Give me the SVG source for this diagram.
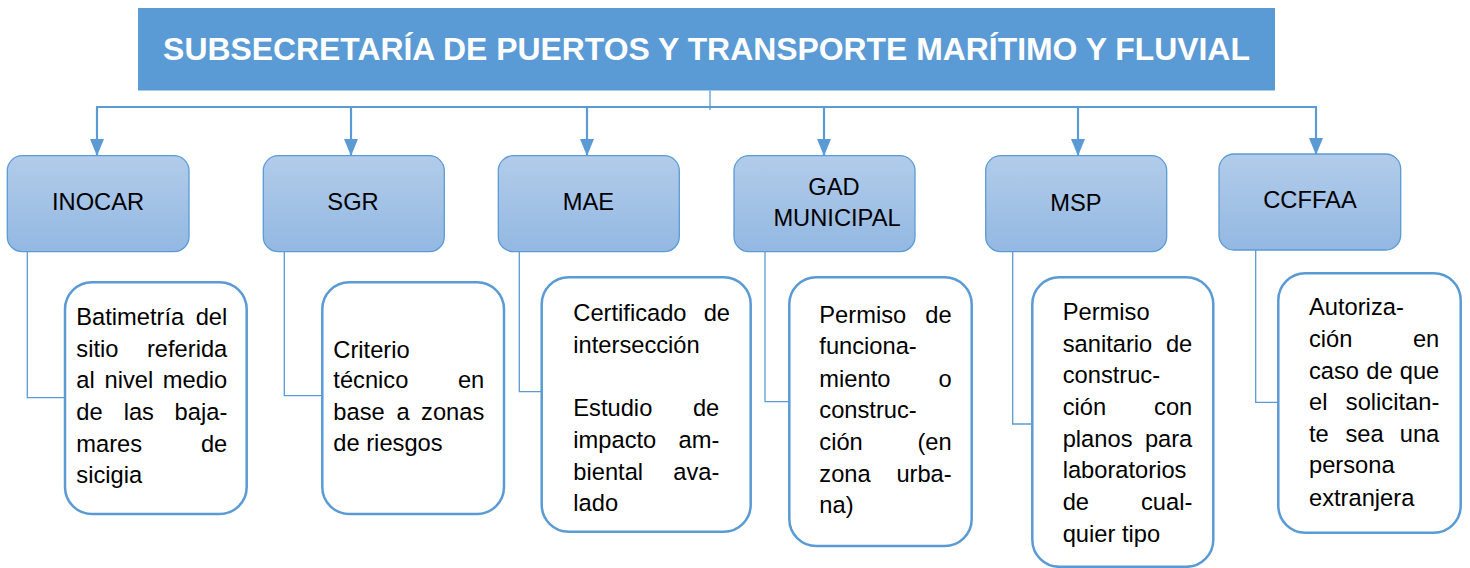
<svg xmlns="http://www.w3.org/2000/svg" width="1470" height="568" viewBox="0 0 1470 568">
<defs>
<linearGradient id="g" x1="0" y1="0" x2="0" y2="1">
<stop offset="0" stop-color="#B2CCEA"/>
<stop offset="1" stop-color="#93B8E2"/>
</linearGradient>
<marker id="ah" markerUnits="userSpaceOnUse" markerWidth="17" markerHeight="16" viewBox="0 0 17 16" refX="16" refY="8" orient="auto">
<path d="M0,1 L17,8 L0,15 Z" fill="#5B9BD5"/>
</marker>
<style>
.org{fill:url(#g);stroke:#5B9BD5;stroke-width:1.3}
.desc{fill:#fff;stroke:#5B9BD5;stroke-width:2.5}
.t{font-family:"Liberation Sans",Arial,sans-serif;font-size:23.7px;fill:#000}
.m{text-anchor:middle}
.e{text-anchor:end}
.ln{fill:none;stroke:#5B9BD5;stroke-width:1.3}
.ar{fill:none;stroke:#5B9BD5;stroke-width:2.2}
.arw{fill:none;stroke:#5B9BD5;stroke-width:2.2;marker-end:url(#ah)}
</style>
</defs>
<g id="title">
<rect x="138" y="8" width="1137" height="82.5" fill="#5B9BD5"/>
<text x="706.5" y="60" text-anchor="middle" font-family="'Liberation Sans',Arial,sans-serif" font-weight="bold" font-size="31.9" fill="#fff">SUBSECRETARÍA DE PUERTOS Y TRANSPORTE MARÍTIMO Y FLUVIAL</text>
</g>
<g id="connectors">
<path class="ln" d="M710,90.5 V110"/>
<path class="ar" d="M96,107 H1317"/>
<path class="arw" d="M97,107 V155"/>
<path class="arw" d="M351,107 V155"/>
<path class="arw" d="M587,107 V155"/>
<path class="arw" d="M824,107 V155"/>
<path class="arw" d="M1078,107 V155"/>
<path class="arw" d="M1316,107 V154"/>
<path class="ln" d="M27.3,251.5 V397.7 H65"/>
<path class="ln" d="M284.3,251.5 V395.7 H322"/>
<path class="ln" d="M519.3,251.5 V391.7 H541.7"/>
<path class="ln" d="M765,251.5 V401.7 H789.3"/>
<path class="ln" d="M1012.7,251.5 V424 H1032.3"/>
<path class="ln" d="M1255.7,250 V402.3 H1278.3"/>
</g>
<g id="inocar">
<rect class="org" x="7.3" y="155.7" width="181.7" height="96" rx="15"/>
<text class="t m" x="98" y="210">INOCAR</text>
</g>
<g id="sgr">
<rect class="org" x="263.3" y="155.7" width="181" height="96" rx="15"/>
<text class="t m" x="353" y="210">SGR</text>
</g>
<g id="mae">
<rect class="org" x="498.3" y="155.7" width="181" height="96" rx="15"/>
<text class="t m" x="588.5" y="210">MAE</text>
</g>
<g id="gad">
<rect class="org" x="734" y="155.7" width="181" height="96" rx="15"/>
<text class="t m" x="834" y="195">GAD</text>
<text class="t m" x="837" y="226">MUNICIPAL</text>
</g>
<g id="msp">
<rect class="org" x="985.7" y="155.7" width="181" height="96" rx="15"/>
<text class="t m" x="1076" y="210.5">MSP</text>
</g>
<g id="ccffaa">
<rect class="org" x="1219" y="154" width="181.7" height="96" rx="15"/>
<text class="t m" x="1310" y="208">CCFFAA</text>
</g>
<g id="inocar-desc">
<rect class="desc" x="65" y="282.3" width="181.7" height="231.7" rx="27"/>
<text class="t" x="76.3" y="325">Batimetría</text><text class="t e" x="227.3" y="325">del</text>
<text class="t" x="76.3" y="356.7">sitio</text><text class="t e" x="227.3" y="356.7">referida</text>
<text class="t" x="76.3" y="388">al</text><text class="t" x="104.6" y="388">nivel</text><text class="t e" x="227.3" y="388">medio</text>
<text class="t" x="76.3" y="420">de</text><text class="t" x="123.7" y="420">las</text><text class="t e" x="227.3" y="420">baja-</text>
<text class="t" x="76.3" y="451.7">mares</text><text class="t e" x="227.3" y="451.7">de</text>
<text class="t" x="76.3" y="483">sicigia</text>
</g>
<g id="sgr-desc">
<rect class="desc" x="322.3" y="282.3" width="181.7" height="231.7" rx="27"/>
<text class="t" x="333.3" y="357.7">Criterio</text>
<text class="t" x="333.3" y="388.3">técnico</text><text class="t e" x="484.3" y="388.3">en</text>
<text class="t" x="333.3" y="420">base</text><text class="t" x="396.4" y="420">a</text><text class="t e" x="484.3" y="420">zonas</text>
<text class="t" x="333.3" y="451">de riesgos</text>
</g>
<g id="mae-desc">
<rect class="desc" x="541.7" y="277.3" width="209" height="254.4" rx="27"/>
<text class="t" x="573.3" y="321">Certificado</text><text class="t e" x="730" y="321">de</text>
<text class="t" x="573.3" y="352.7">intersección</text>
<text class="t" x="573.3" y="416">Estudio</text><text class="t e" x="719.3" y="416">de</text>
<text class="t" x="573.3" y="448.3">impacto</text><text class="t e" x="719.3" y="448.3">am-</text>
<text class="t" x="573.3" y="480">biental</text><text class="t e" x="719.3" y="480">ava-</text>
<text class="t" x="573.3" y="510.7">lado</text>
</g>
<g id="gad-desc">
<rect class="desc" x="789.3" y="277.3" width="182.4" height="268.7" rx="27"/>
<text class="t" x="819.3" y="322.7">Permiso</text><text class="t e" x="951.7" y="322.7">de</text>
<text class="t" x="819.3" y="354.3">funciona-</text>
<text class="t" x="819.3" y="386.7">miento</text><text class="t e" x="951.7" y="386.7">o</text>
<text class="t" x="819.3" y="417.7">construc-</text>
<text class="t" x="819.3" y="450">ción</text><text class="t e" x="951.7" y="450">(en</text>
<text class="t" x="819.3" y="481.7">zona</text><text class="t e" x="951.7" y="481.7">urba-</text>
<text class="t" x="819.3" y="513.3">na)</text>
</g>
<g id="msp-desc">
<rect class="desc" x="1032.3" y="277.3" width="181" height="289.5" rx="27"/>
<text class="t" x="1062.7" y="320">Permiso</text>
<text class="t" x="1062.7" y="351.7">sanitario</text><text class="t e" x="1192.3" y="351.7">de</text>
<text class="t" x="1062.7" y="383.3">construc-</text>
<text class="t" x="1062.7" y="415">ción</text><text class="t e" x="1192.3" y="415">con</text>
<text class="t" x="1062.7" y="446.7">planos</text><text class="t e" x="1192.3" y="446.7">para</text>
<text class="t" x="1062.7" y="478.3">laboratorios</text>
<text class="t" x="1062.7" y="510">de</text><text class="t e" x="1192.3" y="510">cual-</text>
<text class="t" x="1062.7" y="541.7">quier tipo</text>
</g>
<g id="ccffaa-desc">
<rect class="desc" x="1278.3" y="273.3" width="182.4" height="259.4" rx="27"/>
<text class="t" x="1309" y="315">Autoriza-</text>
<text class="t" x="1309" y="347.3">ción</text><text class="t e" x="1439.3" y="347.3">en</text>
<text class="t" x="1309" y="379.3">caso</text><text class="t" x="1366.3" y="379.3">de</text><text class="t e" x="1439.3" y="379.3">que</text>
<text class="t" x="1309" y="410">el</text><text class="t e" x="1439.3" y="410">solicitan-</text>
<text class="t" x="1309" y="441.7">te</text><text class="t" x="1345.4" y="441.7">sea</text><text class="t e" x="1439.3" y="441.7">una</text>
<text class="t" x="1309" y="473.3">persona</text>
<text class="t" x="1309" y="505.7">extranjera</text>
</g>
</svg>
